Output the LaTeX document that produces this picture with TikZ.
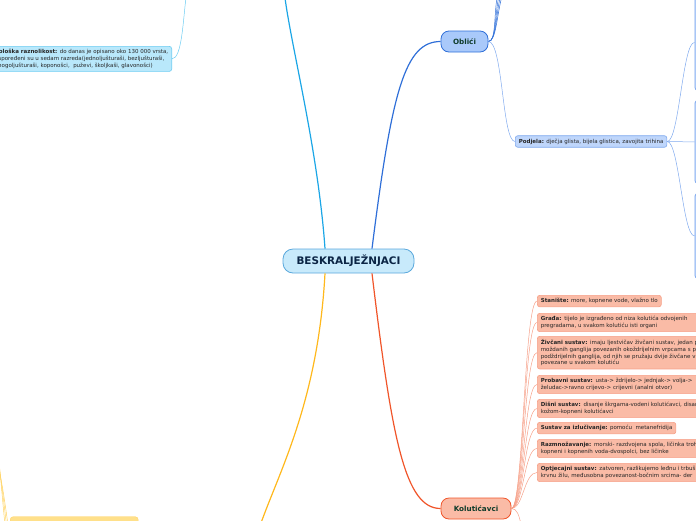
\documentclass[tikz,border=0pt]{standalone}
\usepackage{fontspec}
\setmainfont{DejaVu Sans}
\usetikzlibrary{calc}
\definecolor{rootfill}{HTML}{C8EAFB}
\definecolor{rootline}{HTML}{5AA8DC}
\definecolor{roottext}{HTML}{0B2545}
\definecolor{topictext}{HTML}{0E3B2A}
\definecolor{cyanline}{HTML}{1BA6E6}
\definecolor{cyanfill}{HTML}{B9E8FB}
\definecolor{cyanlight}{HTML}{6CCCF2}
\definecolor{blueline}{HTML}{2F6FD8}
\definecolor{bluefill}{HTML}{A9C9FA}
\definecolor{bluepale}{HTML}{BFD6FB}
\definecolor{bluelight}{HTML}{7FA9EE}
\definecolor{redline}{HTML}{F0552A}
\definecolor{redfill}{HTML}{FABBA6}
\definecolor{redlight}{HTML}{F6A088}
\definecolor{yellowline}{HTML}{FFB81C}
\definecolor{yellowfill}{HTML}{FFE08A}
\definecolor{yellowlight}{HTML}{FFD466}
\tikzset{
  root/.style={draw=rootline,fill=rootfill,rounded corners=10pt,line width=0.8pt,minimum width=131pt,minimum height=24pt,inner sep=0pt,font=\fontsize{10.4}{11}\selectfont\bfseries,text=roottext},
  topic/.style={rounded corners=8pt,line width=0.8pt,minimum height=21pt,inner sep=0pt,font=\fontsize{7.2}{8}\selectfont\bfseries,text=topictext},
  leaf/.style={rounded corners=2.5pt,line width=0.6pt,anchor=north west,align=left,inner xsep=3.5pt,inner ysep=3pt,text=black!85,font=\fontsize{5.5}{6.8}\selectfont},
  redleaf/.style={leaf,draw=redlight,fill=redfill},
  wide/.style={text width=175pt},
  stub/.style={draw=bluelight,fill=bluepale,rounded corners=3pt,line width=0.8pt,anchor=north west,minimum width=30pt,inner sep=0pt},
  branch/.style={line width=1.2pt},
  twig/.style={line width=0.5pt}
}
\begin{document}
\begin{tikzpicture}[x=1pt,y=-1pt]
  \useasboundingbox (0,0) rectangle (696,520);
  \clip (0,0) rectangle (696,520);
  % central topic and main branches
  \node[root] (root) at (348.5,261) {BESKRALJEŽNJACI};
  \node[topic,draw=blueline,fill=bluefill,minimum width=47pt] (oblici) at (464.5,41.5) {Oblići};
  \node[topic,draw=redline,fill=redfill,minimum width=70pt] (kolut) at (476,508.5) {Kolutićavci};
  \coordinate (cyanend) at (285,-2);
  \coordinate (yellowend) at (261,523);
  \draw[branch,cyanline] ($(root.north)+(-23.5,0)$) .. controls (318,150) and (292,50) .. (cyanend);
  \draw[branch,blueline] ($(root.north)+(23.5,0)$) .. controls (392,90) and (405,41.5) .. (oblici.west);
  \draw[branch,redline] ($(root.south)+(23.5,0)$) .. controls (392,440) and (405,508.5) .. (kolut.west);
  \draw[branch,yellowline] ($(root.south)+(-23.5,0)$) .. controls (318,400) and (280,470) .. (yellowend);
  % left side
  \node[leaf,draw=cyanlight,fill=cyanfill,anchor=north east] (razn) at (172,46) {\textbf{Biološka raznolikost:} do danas je opisano oko 130 000 vrsta,\\raspoređeni su u sedam razreda(jednoljušturaši, bezljušturaši,\\mnogoljušturaši, koponošci,\ \ puževi, školjkaši, glavonošci)};
  \coordinate (razntop) at (186,-2);
  \draw[twig,cyanlight] (razn.east) .. controls (182,58.5) and (183,20) .. (razntop);
  \node[draw=yellowlight,fill=yellowfill,rounded corners=3pt,anchor=north west,minimum width=128pt,minimum height=20pt] (zuti) at (10,516.5) {};
  \foreach \k in {0,1,2} {
    \coordinate (ylo\k) at (5+1.5*\k,525);
    \coordinate (yhi\k) at (-3,440+12*\k);
    \draw[twig,yellowlight] (ylo\k) .. controls (2+\k,495) and (0,470) .. (yhi\k);
  }
  % Oblici
  \node[leaf,draw=bluelight,fill=bluepale,anchor=west] (podjela) at (515,141.5) {\textbf{Podjela:} dječja glista, bijela glistica, zavojita trihina};
  \node[stub,minimum height=96pt] (vrstaA) at (694.5,-6) {};
  \node[stub,minimum height=83pt] (vrstaB) at (694.5,100) {};
  \node[stub,minimum height=85pt] (vrstaC) at (694.5,193) {};
  \foreach \k in {0,...,3} {
    \coordinate (up\k) at (497+1.5*\k,-2);
    \draw[twig,blueline] (oblici.east) .. controls (496,41.5) and (494+\k,15) .. (up\k);
  }
  \draw[twig,bluelight] (oblici.east) .. controls (503,41.5) and (502,141.5) .. (podjela.west);
  \foreach \n in {vrstaA,vrstaB,vrstaC}
    \draw[twig,bluelight] (podjela.east) .. controls +(12,0) and +(-12,0) .. (\n.west);
  % Kolutićavci
  \node[redleaf] (stan) at (537,295) {\textbf{Stanište:} more, kopnene vode, vlažno tlo};
  \node[redleaf,wide] (grad) at (537,313) {\textbf{Građa:} tijelo je izgrađeno od niza kolutića odvojenih\\pregradama, u svakom kolutiću isti organi};
  \node[redleaf,wide] (zivc) at (537,336) {\textbf{Živčani sustav:} imaju ljestvičav živčani sustav, jedan par\\moždanih ganglija povezanih okoždrijelnim vrpcama s parom\\podždrijelnih ganglija, od njih se pružaju dvije živčane vrpce\\povezane u svakom kolutiću};
  \node[redleaf,wide] (prob) at (537,375) {\textbf{Probavni sustav:} usta-> ždrijelo-> jednjak-> volja->\\želudac->ravno crijevo-> crijevni (analni otvor)};
  \node[redleaf,wide] (disn) at (537,399) {\textbf{Dišni sustav:} disanje škrgama-vodeni kolutićavci, disanje\\kožom-kopneni kolutićavci};
  \node[redleaf] (izlu) at (537,422) {\textbf{Sustav za izlučivanje:} pomoću\ \ metanefridija};
  \node[redleaf,wide] (razm) at (537,439) {\textbf{Razmnožavanje:} morski- razdvojena spola, ličinka trohofora\\kopneni i kopnenih voda-dvospolci, bez ličinke};
  \node[redleaf,wide] (optj) at (537,463) {\textbf{Optjecajni sustav:} zatvoren, razlikujemo leđnu i trbušnu\\krvnu žilu, međusobna povezanost-bočnim srcima- der};
  \foreach \n in {stan,grad,zivc,prob,disn,izlu,razm,optj}
    \draw[twig,redlight] (kolut.east) .. controls +(12,0) and +(-13,0) .. (\n.west);
  \coordinate (kdown) at (521,524);
  \draw[twig,redlight] (kolut.east) .. controls +(6,0) and +(-2,-8) .. (kdown);
\end{tikzpicture}
\end{document}
